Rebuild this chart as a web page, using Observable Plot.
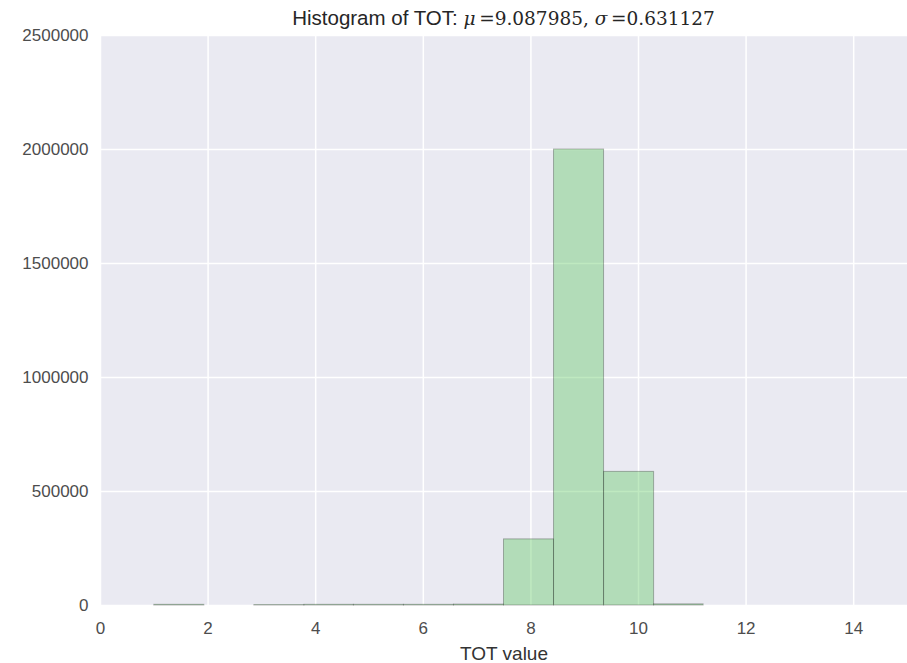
<!DOCTYPE html>
<html><head><meta charset="utf-8">
<script src="https://cdn.jsdelivr.net/npm/d3@7"></script>
<script src="https://cdn.jsdelivr.net/npm/@observablehq/plot@0.6"></script>
<style>
body{margin:0;background:#fff;font-family:"Liberation Sans",Arial,sans-serif;}
#wrap{position:relative;width:907px;height:663px;}
#title{position:absolute;left:100px;right:0;top:0;height:35px;line-height:36px;text-align:center;font-size:20.5px;color:#262626;white-space:nowrap;}
.m{font-family:"DejaVu Serif","Liberation Serif",serif;font-size:18.5px;}
.m i{font-style:italic;}
</style></head>
<body>
<div id="wrap">
<div id="chart"></div>
<div id="title">Histogram of TOT: <span class="m"><i>μ</i>&thinsp;=9.087985, <i>σ</i>&thinsp;=0.631127</span></div>
</div>
<script>
const binStarts = [1.00, 1.93, 2.86, 3.79, 4.71, 5.64, 6.57, 7.50, 8.43, 9.36, 10.29];
const binEnds   = [1.93, 2.86, 3.79, 4.71, 5.64, 6.57, 7.50, 8.43, 9.36, 10.29, 11.21];
const counts    = [3000, 0, 2000, 3000, 3000, 3000, 4000, 290000, 2000000, 586000, 5000];
const xTicks = [0, 2, 4, 6, 8, 10, 12, 14];
const yTicks = [0, 500000, 1000000, 1500000, 2000000, 2500000];

const bins = binStarts.map((s, i) => ({x1: s, x2: binEnds[i], y: counts[i]}));

const chart = Plot.plot({
  width: 907,
  height: 663,
  marginTop: 35,
  marginLeft: 100,
  marginRight: 0,
  marginBottom: 58,
  style: {fontFamily: "Liberation Sans, Arial, sans-serif", fontSize: "17px", color: "#4d4d4d", background: "transparent", overflow: "visible"},
  x: {domain: [0, 15], ticks: xTicks, tickSize: 0, label: null},
  y: {domain: [0, 2500000], ticks: yTicks, tickSize: 0, tickFormat: d => String(d), label: null},
  marks: [
    Plot.frame({fill: "#eaeaf2", stroke: null}),
    Plot.gridX(xTicks, {stroke: "#fff", strokeOpacity: 1, strokeWidth: 1.5}),
    Plot.gridY(yTicks, {stroke: "#fff", strokeOpacity: 1, strokeWidth: 1.5}),
    Plot.rectY(bins, {x1: "x1", x2: "x2", y: "y", fill: "rgb(94,201,98)", fillOpacity: 0.4, stroke: "#000", strokeOpacity: 0.28, strokeWidth: 1}),
    Plot.axisX(xTicks, {tickSize: 0, tickPadding: 16, fontSize: 17, fill: "#4d4d4d"}),
    Plot.axisY(yTicks, {tickSize: 0, tickPadding: 12, fontSize: 17, fill: "#4d4d4d", tickFormat: d => String(d)}),
    Plot.text(["TOT value"], {frameAnchor: "bottom", dy: 48, fontSize: 19, fill: "#333", lineAnchor: "middle"})
  ]
});
document.getElementById("chart").appendChild(chart);
</script>
</body></html>
